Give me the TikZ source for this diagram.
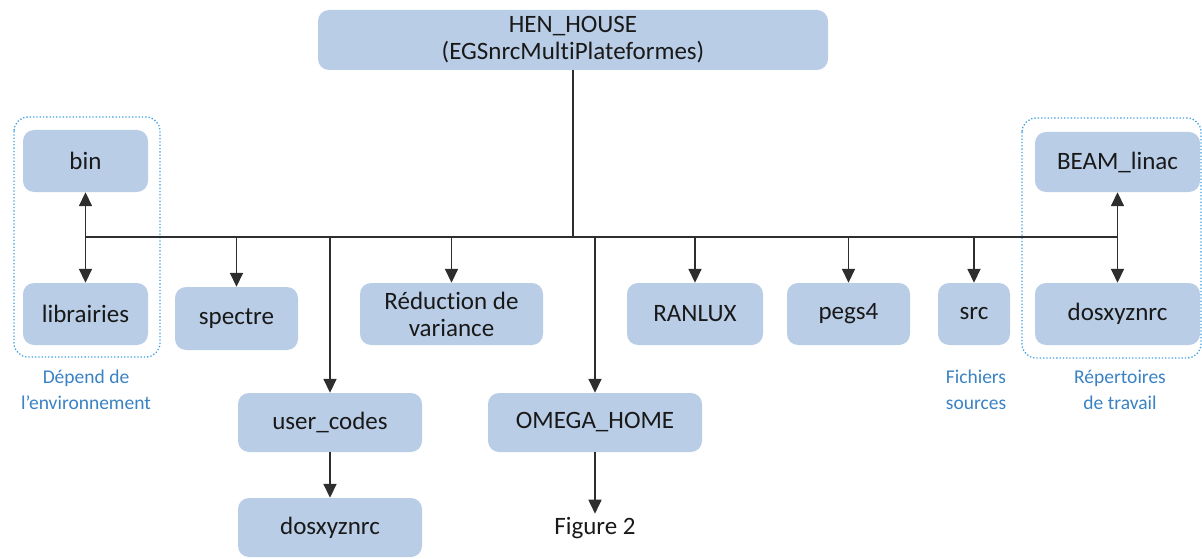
\documentclass[tikz,border=0pt]{standalone}
\usepackage{fontspec}
\setmainfont[Ligatures={NoCommon}]{Carlito}
\usetikzlibrary{arrows.meta}
\definecolor{boxfill}{HTML}{B9CDE6}
\definecolor{linec}{HTML}{2E2E2E}
\definecolor{labc}{HTML}{3A82C4}
\definecolor{dotc}{HTML}{3FA0E0}
\tikzset{
  box/.style={fill=boxfill, rounded corners=11pt, align=center, inner sep=0pt,
    font=\fontsize{25}{27}\selectfont, text=black!90},
  lab/.style={align=center, text=labc, font=\fontsize{19.5}{26}\selectfont},
  conn/.style={draw=linec, line width=1.7pt},
  arr/.style={conn, -{Triangle[length=14pt,width=13pt]}},
  darr/.style={conn, {Triangle[length=14pt,width=13pt]}-{Triangle[length=14pt,width=13pt]}},
  grp/.style={draw=dotc, dotted, line width=1.3pt, rounded corners=14pt}
}
\begin{document}
\begin{tikzpicture}[x=1pt,y=-1pt]
\useasboundingbox (0,0) rectangle (1202,559);
% group frames
\draw[grp] (14,117) rectangle (160,357);
\draw[grp] (1022,118) rectangle (1201,358);
% nodes
\node[box, minimum width=510pt, minimum height=60pt] (hen) at (573,40) {HEN\_HOUSE\\(EGSnrcMultiPlateformes)};
\node[box, minimum width=125pt, minimum height=62pt] (bin) at (85.5,161) {bin};
\node[box, minimum width=125pt, minimum height=62pt] (lib) at (85.5,314) {librairies};
\node[box, minimum width=123pt, minimum height=63pt] (spectre) at (236.5,318.5) {spectre};
\node[box, minimum width=183pt, minimum height=62pt] (red) at (451.5,314) {Réduction de\\variance};
\node[box, minimum width=136pt, minimum height=62pt] (ranlux) at (695,314) {RANLUX};
\node[box, minimum width=123pt, minimum height=62pt] (pegs) at (848.5,314) {pegs4};
\node[box, minimum width=72pt, minimum height=62pt] (src) at (974,314) {src};
\node[box, minimum width=165pt, minimum height=60pt] (beam) at (1117.5,162) {BEAM\_linac};
\node[box, minimum width=165pt, minimum height=62pt] (dosR) at (1117.5,314) {dosxyznrc};
\node[box, minimum width=184pt, minimum height=59pt] (user) at (330,422.5) {user\_codes};
\node[box, minimum width=184pt, minimum height=59pt] (dosL) at (330,527.5) {dosxyznrc};
\node[box, minimum width=214pt, minimum height=59pt] (omega) at (595,422.5) {OMEGA\_HOME};
\node[font=\fontsize{25}{27}\selectfont, text=black!90] (fig) at (595,528) {Figure 2};
% labels
\node[lab] (labL) at (86,390) {Dépend de\\l’environnement};
\node[lab] (labS) at (976,390) {Fichiers\\sources};
\node[lab] (labR) at (1120,390) {Répertoires\\de travail};
% bus
\coordinate (busL) at (86,237);
\coordinate (busR) at (1117.5,237);
\coordinate (busC) at (573,237);
\draw[conn] (hen.south) -- (busC);
\draw[conn] (busL) -- (busR);
\draw[darr] (bin.south) -- (lib.north);
\draw[darr] (beam.south) -- (dosR.north);
\draw[arr] (spectre.north |- busL) -- (spectre.north);
\draw[arr] (red.north |- busL) -- (red.north);
\draw[arr] (ranlux.north |- busL) -- (ranlux.north);
\draw[arr] (pegs.north |- busL) -- (pegs.north);
\draw[arr] (src.north |- busL) -- (src.north);
\draw[arr] (user.north |- busL) -- (user.north);
\draw[arr] (omega.north |- busL) -- (omega.north);
\draw[arr] (user.south) -- (dosL.north);
\draw[arr] (omega.south) -- (fig.north);
\end{tikzpicture}
\end{document}
